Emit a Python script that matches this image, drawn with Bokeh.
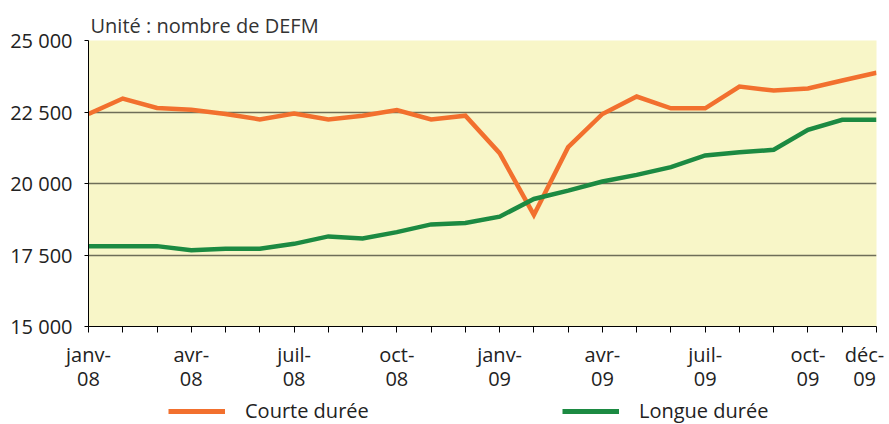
from bokeh.plotting import figure
from bokeh.layouts import column
from bokeh.models import FixedTicker, Range1d, Legend, LegendItem
from bokeh.embed import file_html
from bokeh.resources import INLINE

months = list(range(24))
courte = [22430, 22970, 22640, 22580, 22430, 22240, 22450, 22240, 22370, 22570, 22240, 22370,
          21060, 18900, 21270, 22430, 23040, 22630, 22630, 23390, 23250, 23320, 23600, 23870]
longue = [17810, 17810, 17810, 17670, 17720, 17720, 17890, 18150, 18080, 18300, 18570, 18620,
          18840, 19460, 19750, 20070, 20300, 20570, 20980, 21090, 21180, 21880, 22230, 22230]
NB = "\u00a0"
x_labels = {0: "janv-\n08", 3: "avr-\n08", 6: "juil-\n08", 9: "oct-\n08", 12: "janv-\n09",
            15: "avr-\n09", 18: "juil-\n09", 21: "oct-\n09", 23: "déc-" + NB + "\n09" + NB}
y_ticks = [15000, 17500, 20000, 22500, 25000]
y_labels = ["15 000", "17 500", "20 000", "22 500", "25 000"]
series_names = ["Courte durée", "Longue durée"]

FONT = "Open Sans"
ORANGE = "#F2702E"
GREEN = "#1C8A42"

p = figure(width=889, height=396, output_backend="svg", toolbar_location=None,
           x_range=Range1d(0, 23), y_range=Range1d(15000, 25000),
           min_border_left=88, min_border_right=13, min_border_top=40, min_border_bottom=70,
           title="Unité : nombre de DEFM")
p.title.text_font = FONT
p.title.text_font_size = "20px"
p.title.text_font_style = "normal"
p.title.text_color = "#333333"
p.title.offset = 2
p.title.standoff = 4

p.background_fill_color = "#F8F6C8"
p.border_fill_color = "white"
p.outline_line_color = None

p.xgrid.grid_line_color = None
p.ygrid.ticker = FixedTicker(ticks=[17500, 20000, 22500])
p.ygrid.grid_line_color = "#6E6E58"
p.ygrid.grid_line_width = 1.6

p.xaxis.ticker = FixedTicker(ticks=months)
p.xaxis.major_label_overrides = {m: x_labels.get(m, "") for m in months}
p.xaxis.minor_tick_line_color = None
p.xaxis.major_tick_in = 0
p.xaxis.major_tick_out = 6
p.xaxis.axis_line_color = "black"
p.xaxis.major_tick_line_color = "black"
p.xaxis.major_label_text_font = FONT
p.xaxis.major_label_text_font_size = "20px"
p.xaxis.major_label_text_color = "#222222"
p.xaxis.major_label_text_line_height = 0.9
p.xaxis.major_label_standoff = 8

p.yaxis.ticker = FixedTicker(ticks=y_ticks)
p.yaxis.major_label_overrides = {t: l for t, l in zip(y_ticks, y_labels)}
p.yaxis.minor_tick_line_color = None
p.yaxis.major_tick_in = 0
p.yaxis.major_tick_out = 4
p.yaxis.axis_line_color = "black"
p.yaxis.major_tick_line_color = "black"
p.yaxis.major_label_text_font = FONT
p.yaxis.major_label_text_font_size = "20px"
p.yaxis.major_label_text_color = "#222222"
p.yaxis.major_label_standoff = 12

p.line(months, courte, line_color=ORANGE, line_width=4.5, line_join="miter")
p.line(months, longue, line_color=GREEN, line_width=4.5, line_join="miter")

# legend strip below the chart
q = figure(width=889, height=28, output_backend="svg", toolbar_location=None,
           x_range=Range1d(0, 23), y_range=Range1d(0, 1),
           min_border_left=0, min_border_right=0, min_border_top=0, min_border_bottom=0)
q.axis.visible = False
q.grid.grid_line_color = None
q.outline_line_color = None
q.background_fill_color = "white"
q1 = q.line(months, courte, line_color=ORANGE, line_width=5)
q2 = q.line(months, longue, line_color=GREEN, line_width=5)

for r, name, loc in [(q1, series_names[0], (80, 0)), (q2, series_names[1], (474, 0))]:
    lg = Legend(items=[LegendItem(label=name, renderers=[r])], location=loc,
                background_fill_alpha=0, border_line_color=None,
                glyph_width=57, glyph_height=20, label_standoff=20,
                label_text_font=FONT, label_text_font_size="20px", label_text_color="#222222",
                padding=0, margin=0)
    q.add_layout(lg)

open("out.html", "w").write(file_html(column(p, q, spacing=0), INLINE))
